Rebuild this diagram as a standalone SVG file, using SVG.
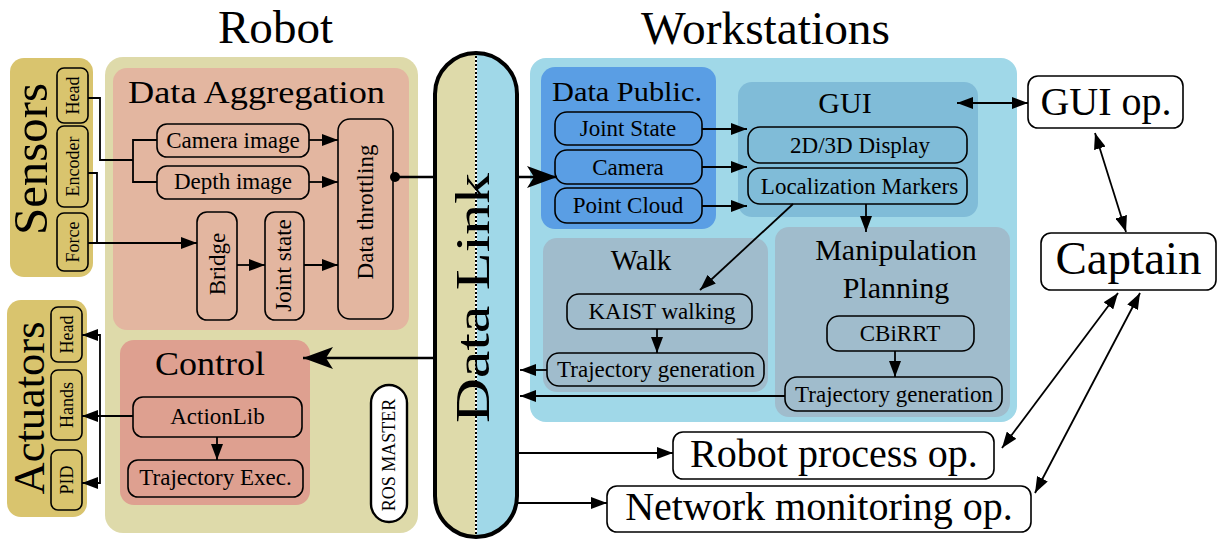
<svg xmlns="http://www.w3.org/2000/svg" width="1221" height="540" viewBox="0 0 1221 540">
<style>
.t{font-family:"Liberation Serif","Times New Roman",serif;fill:#000;text-anchor:middle}
.b{fill:none;stroke:#000;stroke-width:1.6}
.w{fill:#fff;stroke:#000;stroke-width:1.6}
.c{fill:none;stroke:#000;stroke-width:1.8}
.k{fill:none;stroke:#000;stroke-width:2.6}
.s23{font-size:23px}
.s18{font-size:18px}
.s40{font-size:40px}
</style>
<defs>
<marker id="a" viewBox="0 0 16 12" refX="16" refY="6" markerWidth="16" markerHeight="12" markerUnits="userSpaceOnUse" orient="auto-start-reverse"><path d="M0,0 L16,6 L0,12 z" fill="#000"/></marker>
<marker id="big" viewBox="0 0 30 22" refX="30" refY="11" markerWidth="30" markerHeight="22" markerUnits="userSpaceOnUse" orient="auto"><path d="M0,0 L30,11 L0,22 L7,11 z" fill="#000"/></marker>
<linearGradient id="dl" x1="0" y1="0" x2="1" y2="0"><stop offset="0.5" stop-color="#dedaaa"/><stop offset="0.5" stop-color="#a0d8e8"/></linearGradient>
</defs>

<text class="t" x="275.5" y="43" font-size="46" textLength="115" lengthAdjust="spacingAndGlyphs">Robot</text>
<text class="t" x="765.5" y="44" font-size="46" textLength="249" lengthAdjust="spacingAndGlyphs">Workstations</text>

<g id="sensors">
<rect x="10" y="58" width="83" height="219" rx="14" fill="#d9c46e"/>
<text class="t" transform="translate(47,159) rotate(-90)" font-size="48" textLength="152" lengthAdjust="spacingAndGlyphs">Sensors</text>
<rect class="b" x="57" y="68" width="31" height="55" rx="7"/>
<text class="t s18" transform="translate(78.5,95.5) rotate(-90)">Head</text>
<rect class="b" x="57" y="126" width="31" height="81" rx="7"/>
<text class="t s18" transform="translate(78.5,166.5) rotate(-90)">Encoder</text>
<rect class="b" x="57" y="213" width="31" height="58" rx="7"/>
<text class="t s18" transform="translate(78.5,242) rotate(-90)">Force</text>
</g>

<g id="actuators">
<rect x="7" y="300" width="80" height="217" rx="14" fill="#d9c46e"/>
<text class="t" transform="translate(44,408) rotate(-90)" font-size="45" textLength="173" lengthAdjust="spacingAndGlyphs">Actuators</text>
<rect class="b" x="51" y="307" width="31" height="55" rx="7"/>
<text class="t s18" transform="translate(72.5,334.5) rotate(-90)">Head</text>
<rect class="b" x="51" y="370" width="31" height="70" rx="7"/>
<text class="t s18" transform="translate(72.5,405) rotate(-90)">Hands</text>
<rect class="b" x="51" y="450" width="31" height="60" rx="7"/>
<text class="t s18" transform="translate(72.5,480) rotate(-90)">PID</text>
</g>

<g id="robot">
<rect x="105" y="57" width="313" height="476" rx="18" fill="#dedaaa"/>
</g>

<g id="data-aggregation">
<rect x="113" y="68" width="296" height="262" rx="14" fill="#e3b6a0"/>
<text class="t" x="256.5" y="103" font-size="32" textLength="257" lengthAdjust="spacingAndGlyphs">Data Aggregation</text>
</g>
<g id="camera-image"><rect class="b" x="157" y="124" width="152" height="33" rx="10"/><text class="t s23" x="233" y="147.5">Camera image</text></g>
<g id="depth-image"><rect class="b" x="157" y="166" width="152" height="33" rx="10"/><text class="t s23" x="233" y="189">Depth image</text></g>
<g id="bridge"><rect class="b" x="197" y="212" width="40" height="108" rx="10"/><text class="t s23" transform="translate(225,264) rotate(-90)">Bridge</text></g>
<g id="joint-state-r"><rect class="b" x="265" y="212" width="39" height="108" rx="10"/><text class="t s23" transform="translate(291,265.5) rotate(-90)">Joint state</text></g>
<g id="data-throttling"><rect class="b" x="338" y="119" width="55" height="200" rx="12"/><text class="t s23" transform="translate(373,212) rotate(-90)">Data throttling</text></g>

<g id="control">
<rect x="120" y="340" width="190" height="165" rx="14" fill="#dea090"/>
<text class="t" x="210" y="375" font-size="34" textLength="110" lengthAdjust="spacingAndGlyphs">Control</text>
</g>
<g id="actionlib"><rect class="b" x="133" y="397" width="169" height="40" rx="10"/><text class="t s23" x="217.5" y="424">ActionLib</text></g>
<g id="trajectory-exec"><rect class="b" x="128" y="460" width="175" height="37" rx="10"/><text class="t s23" x="215.5" y="485">Trajectory Exec.</text></g>
<g id="ros-master"><rect x="371" y="385" width="36" height="137" rx="18" fill="#fff" stroke="#000" stroke-width="2.4"/><text class="t" font-size="18" transform="translate(395,455) rotate(-90)">ROS MASTER</text></g>

<g id="workstations">
<rect x="530" y="58" width="487" height="364" rx="16" fill="#a0d8e8"/>
</g>
<g id="data-public">
<rect x="541" y="67" width="175" height="162" rx="14" fill="#5a9ee4"/>
<text class="t" x="627" y="101" font-size="28" textLength="150" lengthAdjust="spacingAndGlyphs">Data Public.</text>
</g>
<g id="joint-state-w"><rect class="b" x="555" y="112" width="147" height="33" rx="12"/><text class="t s23" x="628" y="136">Joint State</text></g>
<g id="camera-w"><rect class="b" x="555" y="150" width="147" height="34" rx="12"/><text class="t s23" x="628" y="174.5">Camera</text></g>
<g id="point-cloud"><rect class="b" x="555" y="188" width="147" height="35" rx="12"/><text class="t s23" x="628" y="213">Point Cloud</text></g>

<g id="gui">
<rect x="738" y="82" width="240" height="135" rx="14" fill="#80bcd8"/>
<text class="t" x="845" y="113" font-size="30">GUI</text>
</g>
<g id="display"><rect class="b" x="748" y="127" width="219" height="36" rx="12"/><text class="t s23" x="860" y="152.5">2D/3D Display</text></g>
<g id="localization"><rect class="b" x="748" y="168" width="219" height="36" rx="12"/><text class="t s23" x="859.5" y="193.5">Localization Markers</text></g>

<g id="walk">
<rect x="543" y="238" width="225" height="154" rx="14" fill="#a0bccc"/>
<text class="t" x="641" y="270" font-size="29">Walk</text>
</g>
<g id="kaist"><rect class="b" x="567" y="294" width="185" height="35" rx="12"/><text class="t s23" x="662" y="319">KAIST walking</text></g>
<g id="traj-walk"><rect class="b" x="547" y="353" width="217" height="33" rx="12"/><text class="t s23" x="656" y="377">Trajectory generation</text></g>

<g id="manipulation">
<rect x="775" y="227" width="235" height="190" rx="14" fill="#a0bccc"/>
<text class="t" x="896" y="260" font-size="30">Manipulation</text>
<text class="t" x="896" y="298" font-size="30">Planning</text>
</g>
<g id="cbirrt"><rect class="b" x="827" y="316" width="147" height="35" rx="12"/><text class="t s23" x="900" y="341">CBiRRT</text></g>
<g id="traj-manip"><rect class="b" x="785" y="377" width="217" height="34" rx="12"/><text class="t s23" x="894" y="401.5">Trajectory generation</text></g>

<g id="gui-op"><rect class="w" x="1028" y="76" width="155" height="52" rx="10"/><text class="t s40" x="1106" y="115">GUI op.</text></g>
<g id="captain"><rect class="w" x="1041" y="233" width="175" height="57" rx="10"/><text class="t" x="1128.5" y="274" font-size="47">Captain</text></g>
<g id="robot-process"><rect class="w" x="673" y="432" width="321" height="47" rx="10"/><text class="t s40" x="834" y="467">Robot process op.</text></g>
<g id="network"><rect class="w" x="607" y="486" width="424" height="46" rx="10"/><text class="t s40" x="819" y="520">Network monitoring op.</text></g>

<g id="connectors">
<polyline class="c" points="88,98 100,98 100,160 133,160"/>
<polyline class="c" points="157,140 133,140 133,182 157,182"/>
<polyline class="c" points="88,173 97,173 97,243"/>
<line class="c" x1="88" y1="243" x2="197" y2="243" marker-end="url(#a)"/>
<line class="c" x1="309" y1="140" x2="338" y2="140" marker-end="url(#a)"/>
<line class="c" x1="309" y1="182" x2="338" y2="182" marker-end="url(#a)"/>
<line class="c" x1="237" y1="265" x2="265" y2="265" marker-end="url(#a)"/>
<line class="c" x1="304" y1="265" x2="338" y2="265" marker-end="url(#a)"/>
<circle cx="395" cy="177" r="5" fill="#000"/>
<line class="k" x1="395" y1="177" x2="436" y2="177"/>
<line class="k" x1="517" y1="177" x2="557" y2="177" marker-end="url(#big)"/>
<line class="k" x1="436" y1="358" x2="303" y2="358" marker-end="url(#big)"/>
<line class="c" x1="133" y1="416" x2="82" y2="416" marker-end="url(#a)"/>
<polyline class="c" points="82,335 100,335 100,483 82,483" marker-start="url(#a)" marker-end="url(#a)"/>
<line class="c" x1="217" y1="437" x2="217" y2="460" marker-end="url(#a)"/>
<line class="c" x1="702" y1="129" x2="747" y2="129" marker-end="url(#a)"/>
<line class="c" x1="702" y1="167" x2="747" y2="167" marker-end="url(#a)"/>
<line class="c" x1="702" y1="206" x2="747" y2="206" marker-end="url(#a)"/>
<line class="c" x1="957" y1="103" x2="1028" y2="103" marker-start="url(#a)" marker-end="url(#a)"/>
<line class="c" x1="866" y1="204" x2="866" y2="232" marker-end="url(#a)"/>
<line class="c" x1="793" y1="204" x2="700" y2="290" marker-end="url(#a)"/>
<line class="c" x1="657" y1="329" x2="657" y2="353" marker-end="url(#a)"/>
<line class="c" x1="547" y1="370" x2="520" y2="370" marker-end="url(#a)"/>
<line class="c" x1="895" y1="351" x2="895" y2="377" marker-end="url(#a)"/>
<line class="c" x1="785" y1="396" x2="520" y2="396" marker-end="url(#a)"/>
<line class="c" x1="517" y1="453" x2="673" y2="453" marker-end="url(#a)"/>
<line class="c" x1="517" y1="503" x2="607" y2="503" marker-end="url(#a)"/>
<line class="c" x1="1095" y1="133" x2="1126" y2="232" marker-start="url(#a)" marker-end="url(#a)"/>
<line class="c" x1="1118" y1="293" x2="1002" y2="448" marker-start="url(#a)" marker-end="url(#a)"/>
<line class="c" x1="1140" y1="293" x2="1035" y2="493" marker-start="url(#a)" marker-end="url(#a)"/>
</g>

<g id="data-link">
<rect x="435" y="53" width="82" height="484" rx="41" fill="url(#dl)" stroke="#000" stroke-width="4"/>
<line x1="476" y1="56" x2="476" y2="534" stroke="#fff" stroke-width="2"/>
<line x1="476" y1="56" x2="476" y2="534" stroke="#000" stroke-width="2" stroke-dasharray="2,2"/>
<text class="t" transform="translate(489,298) rotate(-90)" font-size="48" textLength="250" lengthAdjust="spacingAndGlyphs">Data Link</text>
</g>
</svg>
